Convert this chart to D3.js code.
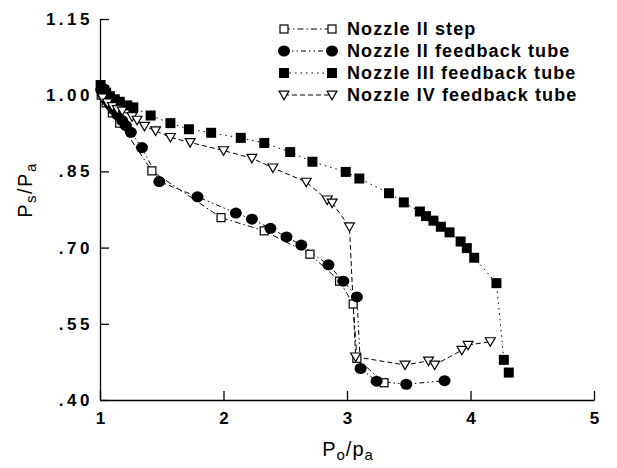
<!DOCTYPE html>
<html lang='en'>
  <head>
    <style type='text/css'>
      body { margin: 0; background-color: #fff; }
      #visualization { width: 617px; height: 468px; }
      text { font-family: "Liberation Sans", Arial, sans-serif; fill: #000; }
    </style>
  </head>
  <body>
    <div id='visualization'>
      <svg width='617' height='468'></svg>
    </div>

    <script src='https://d3js.org/d3.v7.min.js'></script>
    <script type='text/javascript'>
        // ---- data: [Po/pa, Ps/Pa] ----
        var nozzle2Step = [
          [1.01, 1.00], [1.05, 0.985], [1.10, 0.965], [1.16, 0.945],
          [1.42, 0.851], [1.98, 0.759], [2.33, 0.733], [2.70, 0.687],
          [2.94, 0.634], [3.05, 0.589], [3.08, 0.482], [3.30, 0.434]
        ];
        var nozzle2Tube = [
          [1.01, 1.01], [1.03, 1.0], [1.06, 0.99], [1.08, 0.982], [1.11, 0.972],
          [1.14, 0.962], [1.18, 0.95], [1.21, 0.94],
          [1.25, 0.927], [1.34, 0.897], [1.48, 0.830], [1.79, 0.800],
          [2.10, 0.768], [2.23, 0.756], [2.38, 0.738], [2.51, 0.721],
          [2.63, 0.705], [2.85, 0.666], [2.97, 0.634], [3.08, 0.603],
          [3.11, 0.462], [3.24, 0.437], [3.48, 0.431], [3.79, 0.438]
        ];
        var nozzle3Tube = [
          [1.005, 1.02], [1.02, 1.012], [1.035, 1.01], [1.05, 1.005],
          [1.08, 0.998], [1.12, 0.992], [1.16, 0.987], [1.22, 0.98],
          [1.27, 0.976], [1.41, 0.960], [1.57, 0.945],
          [1.72, 0.933], [1.90, 0.926], [2.14, 0.916], [2.33, 0.906],
          [2.54, 0.888], [2.72, 0.869], [2.99, 0.849], [3.10, 0.836],
          [3.34, 0.807], [3.46, 0.789], [3.59, 0.771], [3.64, 0.762],
          [3.70, 0.753], [3.76, 0.741], [3.83, 0.730], [3.92, 0.712],
          [3.97, 0.699], [4.03, 0.680], [4.21, 0.630], [4.27, 0.479],
          [4.31, 0.454]
        ];
        var nozzle4Tube = [
          [1.02, 0.995], [1.06, 0.985], [1.10, 0.978], [1.14, 0.972],
          [1.18, 0.969], [1.26, 0.958], [1.30, 0.951], [1.36, 0.939],
          [1.45, 0.930], [1.57, 0.917], [1.73, 0.907], [2.00, 0.891],
          [2.23, 0.876], [2.40, 0.857], [2.67, 0.829], [2.84, 0.794],
          [2.88, 0.788], [3.02, 0.741], [3.07, 0.485], [3.47, 0.469],
          [3.66, 0.477], [3.71, 0.469], [3.93, 0.498], [3.98, 0.508],
          [4.16, 0.515]
        ];
        var seriesNames = ["Nozzle II step", "Nozzle II feedback tube",
                           "Nozzle III feedback tube", "Nozzle IV feedback tube"];
        var xTicks = [1, 2, 3, 4, 5];
        var xTickLabels = ["1", "2", "3", "4", "5"];
        var yTicks = [0.40, 0.55, 0.70, 0.85, 1.00, 1.15];
        var yTickLabels = [".40", ".55", ".70", ".85", "1.00", "1.15"];

        var svg = d3.select("svg");
        var x = d3.scaleLinear().domain([1, 5]).range([100, 594]);
        var y = d3.scaleLinear().domain([0.40, 1.15]).range([400, 19]);

        // axes (ticks point inward)
        var gx = svg.append("g").attr("transform", "translate(0,400)")
          .call(d3.axisBottom(x).tickValues(xTicks).tickSizeInner(-9).tickSizeOuter(0)
            .tickPadding(12).tickFormat(function(d, i) { return xTickLabels[i]; }));
        var gy = svg.append("g").attr("transform", "translate(100,0)")
          .call(d3.axisLeft(y).tickValues(yTicks).tickSizeInner(-9).tickSizeOuter(0)
            .tickPadding(7).tickFormat(function(d, i) { return yTickLabels[i]; }));
        [gx, gy].forEach(function(g) {
          g.selectAll("path, line").attr("stroke", "#000").attr("stroke-width", 1.3);
          g.selectAll("text").attr("font-size", 17).attr("font-weight", "bold")
            .attr("font-family", "'Liberation Sans', Arial, sans-serif");
        });
        gy.selectAll("text").attr("letter-spacing", 3.5);

        // axis titles
        var xt = svg.append("text").attr("x", 348).attr("y", 456)
          .attr("text-anchor", "middle").attr("font-size", 20).attr("letter-spacing", 1);
        xt.append("tspan").text("P");
        xt.append("tspan").attr("font-size", 15).attr("dy", 4).text("o");
        xt.append("tspan").attr("dy", -4).text("/p");
        xt.append("tspan").attr("font-size", 15).attr("dy", 4).text("a");

        var yt = svg.append("text").attr("transform", "translate(32,190) rotate(-90)")
          .attr("text-anchor", "middle").attr("font-size", 20).attr("letter-spacing", 1.5);
        yt.append("tspan").text("P");
        yt.append("tspan").attr("font-size", 15).attr("dy", 4).text("s");
        yt.append("tspan").attr("dy", -4).text("/P");
        yt.append("tspan").attr("font-size", 15).attr("dy", 4).text("a");

        // series styles
        var styles = [
          {data: nozzle2Step, dash: "6,3,1.5,3", marker: "osquare"},
          {data: nozzle2Tube, dash: "5,3,1.5,3,1.5,3", marker: "circle"},
          {data: nozzle3Tube, dash: "1.5,4", marker: "square"},
          {data: nozzle4Tube, dash: "5,3", marker: "triangle"}
        ];

        function drawMarker(g, type, cx, cy) {
          if (type === "circle") {
            g.append("ellipse").attr("cx", cx).attr("cy", cy).attr("rx", 6).attr("ry", 5.5)
              .attr("fill", "#000");
          } else if (type === "square") {
            g.append("rect").attr("x", cx - 5).attr("y", cy - 5)
              .attr("width", 10).attr("height", 10).attr("fill", "#000");
          } else if (type === "osquare") {
            g.append("rect").attr("x", cx - 4).attr("y", cy - 4)
              .attr("width", 8).attr("height", 8).attr("fill", "#fff")
              .attr("stroke", "#000").attr("stroke-width", 1.2);
          } else {
            g.append("path").attr("d", d3.symbol().type(d3.symbolTriangle).size(42)())
              .attr("transform", "translate(" + cx + "," + (cy - 1) + ") rotate(180)")
              .attr("fill", "#fff").attr("stroke", "#000").attr("stroke-width", 1.2);
          }
        }

        var line = d3.line().x(function(d) { return x(d[0]); }).y(function(d) { return y(d[1]); });

        styles.forEach(function(s) {
          svg.append("path").attr("d", line(s.data)).attr("fill", "none")
            .attr("stroke", "#000").attr("stroke-width", 1).attr("stroke-dasharray", s.dash);
        });
        styles.forEach(function(s) {
          var g = svg.append("g");
          s.data.forEach(function(d) { drawMarker(g, s.marker, x(d[0]), y(d[1])); });
        });

        // legend
        var legend = svg.append("g");
        styles.forEach(function(s, i) {
          var ly = 29 + i * 22;
          legend.append("line").attr("x1", 284).attr("x2", 332).attr("y1", ly).attr("y2", ly)
            .attr("stroke", "#000").attr("stroke-width", 1).attr("stroke-dasharray", s.dash);
          drawMarker(legend, s.marker, 284, ly);
          drawMarker(legend, s.marker, 332, ly);
          legend.append("text").attr("x", 347).attr("y", ly + 6)
            .attr("font-size", 18).attr("font-weight", "bold").attr("letter-spacing", 1.1)
            .text(seriesNames[i]);
        });
    </script>
  </body>
</html>
